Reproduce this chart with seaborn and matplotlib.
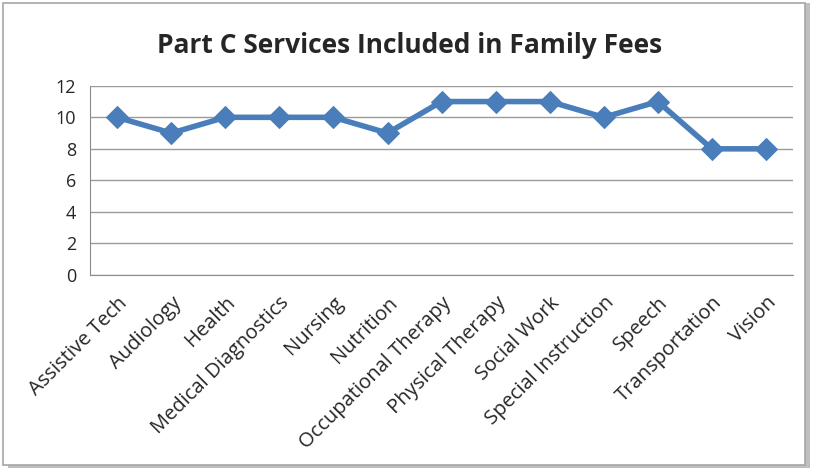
import matplotlib
matplotlib.use("Agg")
import matplotlib.pyplot as plt
import seaborn as sns
import pandas as pd
from matplotlib.patches import Rectangle

services = ['Assistive Tech', 'Audiology', 'Health', 'Medical Diagnostics', 'Nursing',
            'Nutrition', 'Occupational Therapy', 'Physical Therapy', 'Social Work',
            'Special Instruction', 'Speech', 'Transportation', 'Vision']
counts = [10, 9, 10, 10, 10, 9, 11, 11, 11, 10, 11, 8, 8]
y_ticks = [0, 2, 4, 6, 8, 10, 12]

df = pd.DataFrame({'service': services, 'count': counts})

sns.set_style('white')
plt.rcParams['font.family'] = ['Open Sans', 'DejaVu Sans']

fig = plt.figure(figsize=(8.2, 4.74), dpi=100)
ax = fig.add_axes([0.110, 0.420, 0.857, 0.399])

# frame with shadow around the chart
fig.patches.append(Rectangle((0.010, 0.012), 0.978, 0.982, transform=fig.transFigure,
                             facecolor='#bfbfbf', edgecolor='none', zorder=-2))
fig.patches.append(Rectangle((0.004, 0.018), 0.978, 0.976, transform=fig.transFigure,
                             facecolor='white', edgecolor='#a6a6a6', linewidth=1.2, zorder=-1))

sns.lineplot(data=df, x='service', y='count', sort=False, ax=ax,
             color='#4a7ebb', linewidth=4, marker='D', markersize=11,
             markeredgecolor='#4a7ebb')

ax.set_ylim(0, 12)
ax.set_yticks(y_ticks)
ax.set_xlim(-0.5, len(services) - 0.5)
ax.yaxis.grid(True, color='#9a9a9a', linewidth=1)
ax.set_axisbelow(True)
ax.set_xlabel('')
ax.set_ylabel('')
for s in ['top', 'right']:
    ax.spines[s].set_visible(False)
for s in ['left', 'bottom']:
    ax.spines[s].set_color('#8c8c8c')
ax.tick_params(axis='y', labelsize=13, length=0, pad=10)
ax.tick_params(axis='x', labelsize=14.5, length=0, pad=13)
plt.setp(ax.get_xticklabels(), rotation=45, ha='right', rotation_mode='anchor')

fig.text(0.5, 0.905, 'Part C Services Included in Family Fees', ha='center', va='center',
         fontsize=19, fontweight='bold')

fig.savefig('out.png', dpi=100)
